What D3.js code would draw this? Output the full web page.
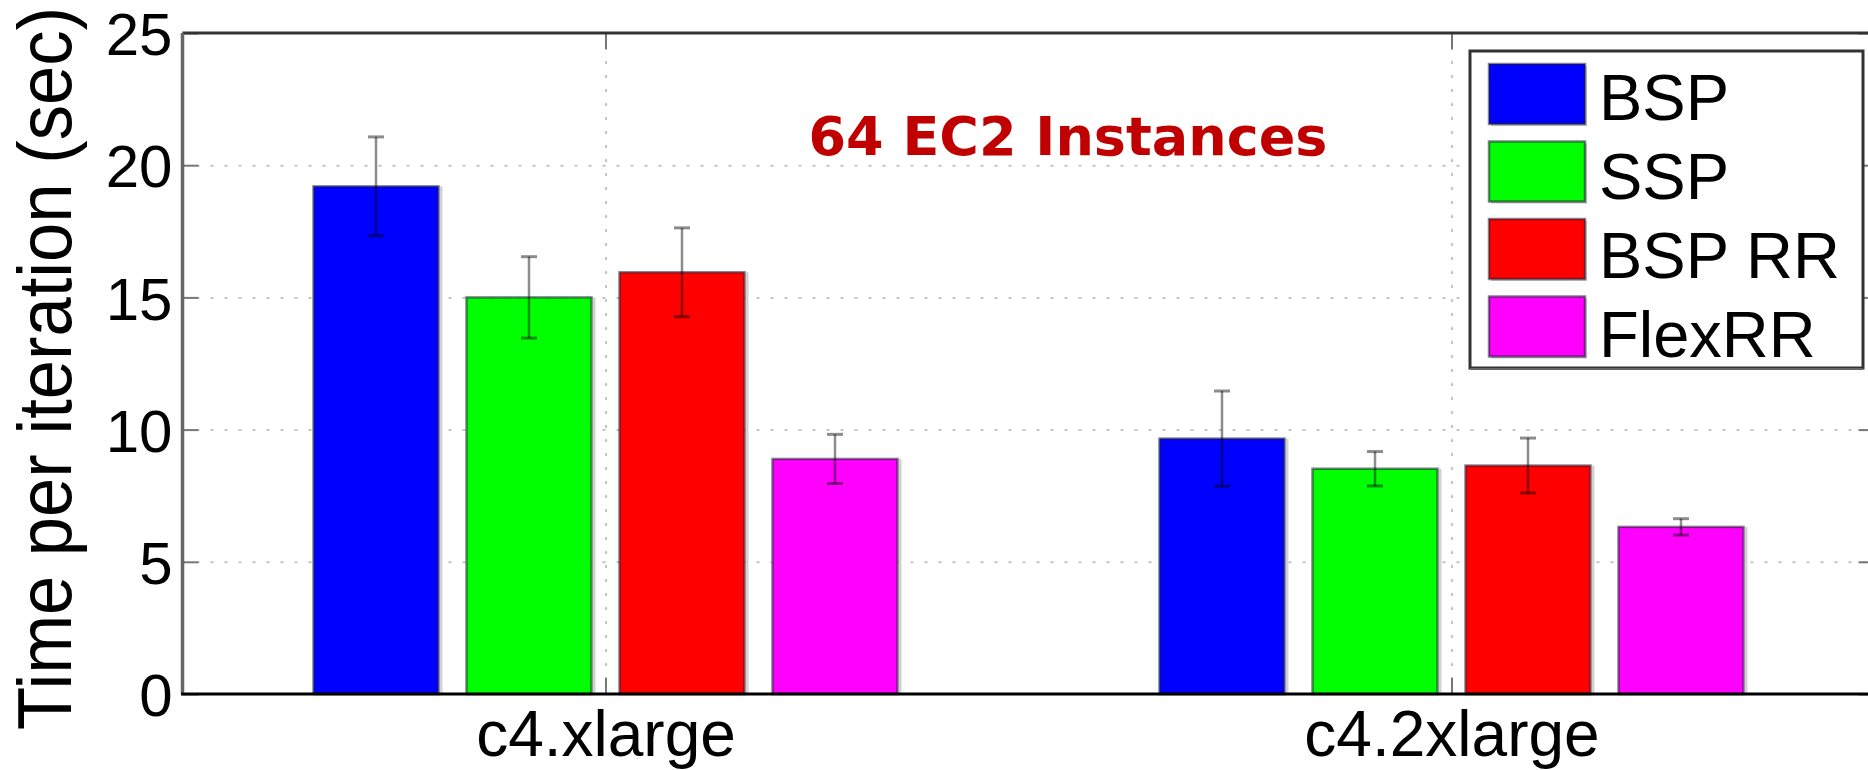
<!DOCTYPE html>
<html>
<head>
<meta charset="utf-8">
<script src="https://cdn.jsdelivr.net/npm/d3@7"></script>
<style>
  html, body { margin: 0; padding: 0; background: #fff; }
  svg { display: block; font-family: 'Liberation Sans', Arial, Helvetica, sans-serif; }
</style>
</head>
<body>
<svg width="1868" height="770"></svg>
<script>
/* global d3 */
const categories = ['c4.xlarge', 'c4.2xlarge']
const series = ['BSP', 'SSP', 'BSP RR', 'FlexRR']
const seriesColors = ['#0000ff', '#00ff00', '#ff0000', '#ff00ff']
// mean time per iteration, one array per series (c4.xlarge, c4.2xlarge)
const bsp = [19.2, 9.66]
const ssp = [15.0, 8.52]
const bspRR = [15.95, 8.64]
const flexRR = [8.89, 6.32]
// half-length of the error bars
const bspErr = [1.87, 1.8]
const sspErr = [1.54, 0.65]
const bspRRErr = [1.68, 1.04]
const flexRRErr = [0.93, 0.31]
const yTicks = [0, 5, 10, 15, 20, 25]
const titleText = '64 EC2 Instances'
const yLabel = 'Time per iteration (sec)'

const values = [bsp, ssp, bspRR, flexRR]
const errors = [bspErr, sspErr, bspRRErr, flexRRErr]

const plotLeft = 182.5
const plotRight = 1874.5
const plotTop = 33
const plotBottom = 694

const svg = d3.select('svg')

const x = d3
  .scaleLinear()
  .domain([0.5, 2.5])
  .range([plotLeft, plotRight])
const xInner = d3
  .scaleBand()
  .domain(series)
  .range([-306, 306])
  .paddingInner(0.183)
  .paddingOuter(0.0915)
const y = d3
  .scaleLinear()
  .domain([0, 25])
  .range([plotBottom, plotTop])

const data = []
categories.forEach((c, ci) => {
  series.forEach((s, si) => {
    data.push({ cat: ci + 1, s, color: seriesColors[si], v: values[si][ci], e: errors[si][ci] })
  })
})

// dotted grid
const gridStyle = g => {
  g.select('.domain').remove()
  g.selectAll('line')
    .attr('stroke', '#c4c4c4')
    .attr('stroke-width', 2)
    .attr('stroke-dasharray', '3,11')
}
svg.append('g')
  .attr('transform', `translate(${plotLeft},0)`)
  .call(d3.axisLeft(y).tickValues([5, 10, 15, 20]).tickSize(-(plotRight - plotLeft)).tickFormat(''))
  .call(gridStyle)
svg.append('g')
  .attr('transform', `translate(0,${plotBottom})`)
  .call(d3.axisBottom(x).tickValues([1, 2]).tickSize(-(plotBottom - plotTop)).tickFormat(''))
  .call(gridStyle)

// bars
const bars = svg.append('g')
bars.selectAll('rect.shadow')
  .data(data)
  .enter()
  .append('rect')
  .attr('class', 'shadow')
  .attr('x', d => x(d.cat) + xInner(d.s) + xInner.bandwidth() + 1)
  .attr('y', d => y(d.v))
  .attr('width', 3)
  .attr('height', d => y(0) - y(d.v))
  .attr('fill', '#d2d2d2')
bars.selectAll('rect.bar')
  .data(data)
  .enter()
  .append('rect')
  .attr('class', 'bar')
  .attr('x', d => x(d.cat) + xInner(d.s))
  .attr('y', d => y(d.v))
  .attr('width', xInner.bandwidth())
  .attr('height', d => y(0) - y(d.v))
  .attr('fill', d => d.color)
  .attr('stroke', 'rgba(30,30,50,0.55)')
  .attr('stroke-width', 2.5)

// error bars
const errG = svg.append('g')
  .attr('stroke', 'rgba(0,0,0,0.45)')
const cx = d => x(d.cat) + xInner(d.s) + xInner.bandwidth() / 2
errG.selectAll('line.stem')
  .data(data)
  .enter()
  .append('line')
  .attr('x1', cx)
  .attr('x2', cx)
  .attr('y1', d => y(d.v + d.e))
  .attr('y2', d => y(d.v - d.e))
  .attr('stroke-width', 2.5)
errG.selectAll('line.capTop')
  .data(data)
  .enter()
  .append('line')
  .attr('x1', d => cx(d) - 8)
  .attr('x2', d => cx(d) + 8)
  .attr('y1', d => y(d.v + d.e))
  .attr('y2', d => y(d.v + d.e))
  .attr('stroke-width', 3)
errG.selectAll('line.capBottom')
  .data(data)
  .enter()
  .append('line')
  .attr('x1', d => cx(d) - 8)
  .attr('x2', d => cx(d) + 8)
  .attr('y1', d => y(d.v - d.e))
  .attr('y2', d => y(d.v - d.e))
  .attr('stroke-width', 3)

// inward tick marks on all four sides
const tickStyle = g => {
  g.select('.domain').remove()
  g.selectAll('line').attr('stroke', '#777').attr('stroke-width', 2)
}
svg.append('g')
  .attr('transform', `translate(${plotLeft},0)`)
  .call(d3.axisRight(y).tickValues(yTicks).tickSize(16).tickFormat(''))
  .call(tickStyle)
svg.append('g')
  .attr('transform', `translate(${plotRight},0)`)
  .call(d3.axisLeft(y).tickValues(yTicks).tickSize(16).tickFormat(''))
  .call(tickStyle)
svg.append('g')
  .attr('transform', `translate(0,${plotBottom})`)
  .call(d3.axisTop(x).tickValues([1, 2]).tickSize(16).tickFormat(''))
  .call(tickStyle)
svg.append('g')
  .attr('transform', `translate(0,${plotTop})`)
  .call(d3.axisBottom(x).tickValues([1, 2]).tickSize(16).tickFormat(''))
  .call(tickStyle)

// frame
svg.append('line')
  .attr('x1', plotLeft).attr('x2', plotRight).attr('y1', plotTop).attr('y2', plotTop)
  .attr('stroke', '#333').attr('stroke-width', 3)
svg.append('line')
  .attr('x1', plotRight).attr('x2', plotRight).attr('y1', plotTop).attr('y2', plotBottom)
  .attr('stroke', '#333').attr('stroke-width', 3)
svg.append('line')
  .attr('x1', plotLeft).attr('x2', plotLeft).attr('y1', plotTop).attr('y2', plotBottom)
  .attr('stroke', '#666').attr('stroke-width', 3.5)
svg.append('line')
  .attr('x1', plotLeft - 1.5).attr('x2', plotRight).attr('y1', plotBottom).attr('y2', plotBottom)
  .attr('stroke', '#000').attr('stroke-width', 3)

// tick labels
const yAxis = svg.append('g')
  .attr('transform', `translate(${plotLeft},0)`)
  .call(d3.axisLeft(y).tickValues(yTicks).tickSize(0).tickPadding(10))
yAxis.select('.domain').remove()
yAxis.selectAll('text')
  .attr('dy', '0.36em')
  .attr('fill', '#000')
  .style('font-size', '60px')
  .style('font-family', "'Liberation Sans', Arial, sans-serif")

const xAxis = svg.append('g')
  .attr('transform', `translate(0,${plotBottom})`)
  .call(d3.axisBottom(x).tickValues([1, 2]).tickSize(0).tickFormat(d => categories[d - 1]))
xAxis.select('.domain').remove()
xAxis.selectAll('text')
  .attr('y', 62)
  .attr('dy', 0)
  .attr('fill', '#000')
  .style('font-size', '64px')
  .style('font-family', "'Liberation Sans', Arial, sans-serif")

// y label
svg.append('text')
  .attr('transform', 'translate(71,368.5) rotate(-90)')
  .attr('text-anchor', 'middle')
  .attr('textLength', 723)
  .attr('lengthAdjust', 'spacingAndGlyphs')
  .style('font-size', '76px')
  .text(yLabel)

// title
svg.append('text')
  .attr('x', 1068)
  .attr('y', 155)
  .attr('text-anchor', 'middle')
  .attr('fill', '#c00000')
  .style('font-family', "'DejaVu Sans', Verdana, sans-serif")
  .style('font-weight', 'bold')
  .style('font-size', '54px')
  .text(titleText)

// legend
const legend = svg.append('g')
legend.append('rect')
  .attr('x', 1470)
  .attr('y', 51)
  .attr('width', 393)
  .attr('height', 317)
  .attr('fill', '#fff')
  .attr('stroke', '#333')
  .attr('stroke-width', 3)
legend.append('line')
  .attr('x1', 1470).attr('x2', 1863).attr('y1', 369).attr('y2', 369)
  .attr('stroke', '#666').attr('stroke-width', 2)
const items = legend.selectAll('g.item')
  .data(series)
  .enter()
  .append('g')
  .attr('transform', (d, i) => `translate(1489,${94 + i * 77.5})`)
items.append('rect')
  .attr('x', 2)
  .attr('y', -28)
  .attr('width', 96)
  .attr('height', 60)
  .attr('fill', '#c8c8c8')
items.append('rect')
  .attr('x', 0)
  .attr('y', -30)
  .attr('width', 96)
  .attr('height', 60)
  .attr('fill', (d, i) => seriesColors[i])
  .attr('stroke', 'rgba(30,30,50,0.55)')
  .attr('stroke-width', 2.5)
items.append('text')
  .attr('x', 110)
  .attr('y', (d, i) => 26 + i * 1.5)
  .attr('fill', '#000')
  .style('font-size', '65px')
  .text(d => d)
</script>
</body>
</html>
